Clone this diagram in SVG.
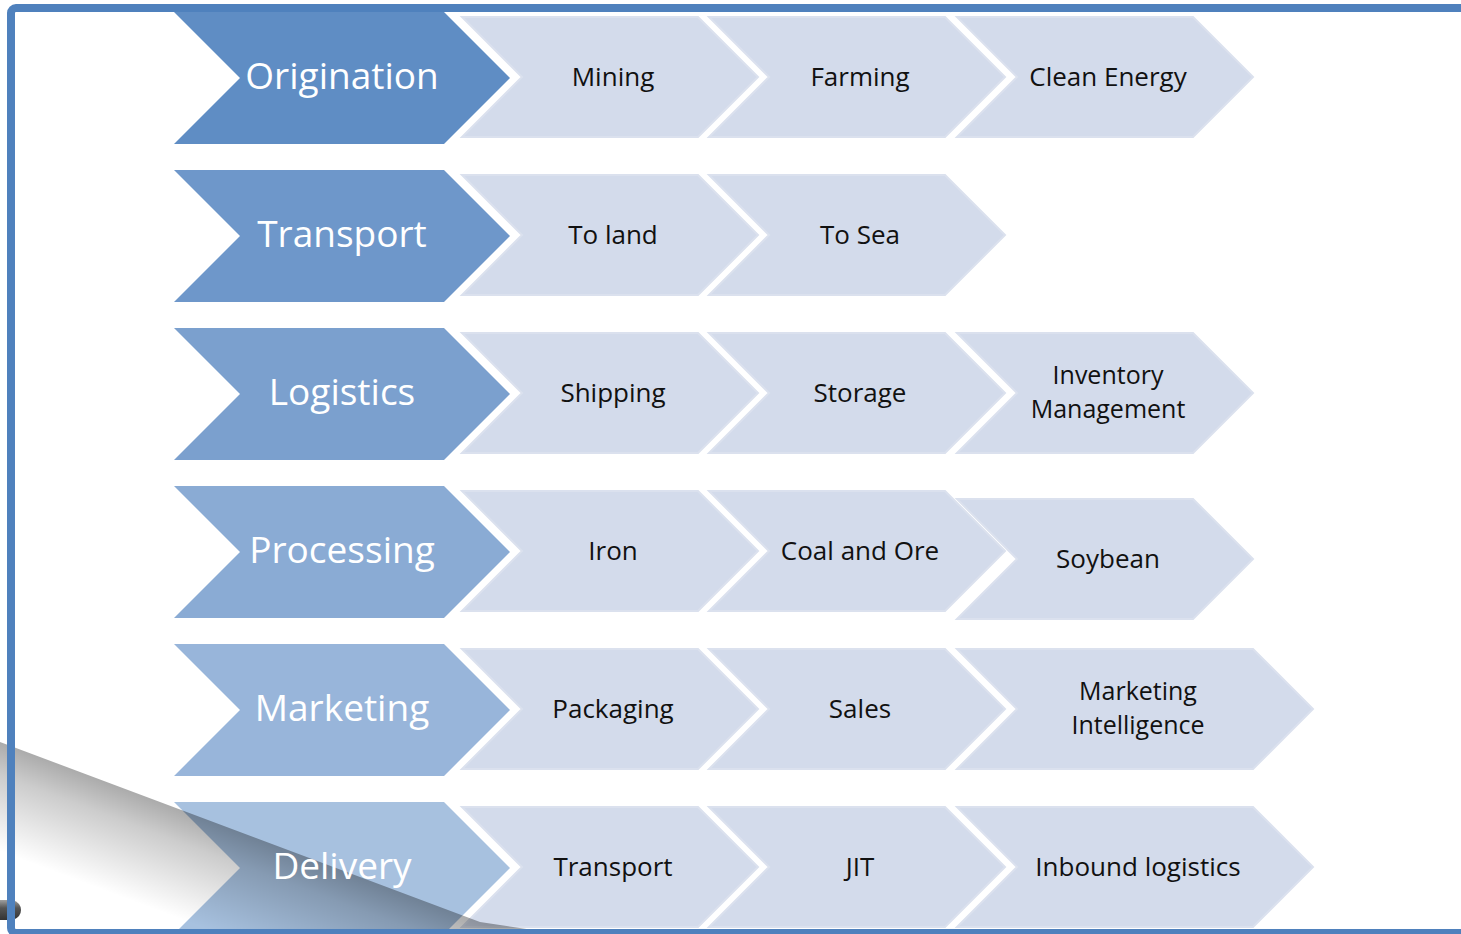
<svg xmlns="http://www.w3.org/2000/svg" width="1461" height="934" viewBox="0 0 1461 934">
<defs>
<style>
.main text{font-family:"Open Sans","Noto Sans",sans-serif;font-size:37px;fill:#ffffff;text-anchor:middle}
.sub polygon{fill:#d3dbeb;stroke:#dbe1ee;stroke-width:2}
.sub text{font-family:"Open Sans","Noto Sans",sans-serif;font-size:26px;fill:#111111;text-anchor:middle}
.sub text.two{font-size:25px}
</style>
<linearGradient id="shade" gradientUnits="userSpaceOnUse" x1="240" y1="832" x2="204" y2="928">
<stop offset="0" stop-color="#000000" stop-opacity="0.33"/>
<stop offset="0.3" stop-color="#000000" stop-opacity="0.2"/>
<stop offset="1" stop-color="#000000" stop-opacity="0"/>
</linearGradient>
<linearGradient id="blob" x1="0" y1="0" x2="0" y2="1">
<stop offset="0" stop-color="#a0a0a0"/>
<stop offset="0.4" stop-color="#555555"/>
<stop offset="1" stop-color="#333333"/>
</linearGradient>
</defs>
<rect x="0" y="0" width="1461" height="934" fill="#ffffff"/>

<g id="row-origination">
<g id="origination" class="main"><polygon points="174,12 444,12 510,78 444,144 174,144 240,78" fill="#5f8dc4"/><text x="342" y="89">Origination</text></g>
<g id="mining" class="sub"><polygon points="462,17 698,17 758,77 698,137 462,137 522,77"/><text x="613" y="86">Mining</text></g>
<g id="farming" class="sub"><polygon points="709,17 945,17 1005,77 945,137 709,137 769,77"/><text x="860" y="86">Farming</text></g>
<g id="clean-energy" class="sub"><polygon points="957,17 1193,17 1253,77 1193,137 957,137 1017,77"/><text x="1108" y="86">Clean Energy</text></g>
</g>

<g id="row-transport">
<g id="transport" class="main"><polygon points="174,170 444,170 510,236 444,302 174,302 240,236" fill="#6e97ca"/><text x="342" y="247">Transport</text></g>
<g id="to-land" class="sub"><polygon points="462,175 698,175 758,235 698,295 462,295 522,235"/><text x="613" y="244">To land</text></g>
<g id="to-sea" class="sub"><polygon points="709,175 945,175 1005,235 945,295 709,295 769,235"/><text x="860" y="244">To Sea</text></g>
</g>

<g id="row-logistics">
<g id="logistics" class="main"><polygon points="174,328 444,328 510,394 444,460 174,460 240,394" fill="#7ba0ce"/><text x="342" y="405">Logistics</text></g>
<g id="shipping" class="sub"><polygon points="462,333 698,333 758,393 698,453 462,453 522,393"/><text x="613" y="402">Shipping</text></g>
<g id="storage" class="sub"><polygon points="709,333 945,333 1005,393 945,453 709,453 769,393"/><text x="860" y="402">Storage</text></g>
<g id="inventory-management" class="sub"><polygon points="957,333 1193,333 1253,393 1193,453 957,453 1017,393"/><text class="two" x="1108" y="384">Inventory</text><text class="two" x="1108" y="418">Management</text></g>
</g>

<g id="row-processing">
<g id="processing" class="main"><polygon points="174,486 444,486 510,552 444,618 174,618 240,552" fill="#8aabd4"/><text x="342" y="563">Processing</text></g>
<g id="iron" class="sub"><polygon points="462,491 698,491 758,551 698,611 462,611 522,551"/><text x="613" y="560">Iron</text></g>
<g id="coal-and-ore" class="sub"><polygon points="709,491 945,491 1005,551 945,611 709,611 769,551"/><text x="860" y="560">Coal and Ore</text></g>
<g id="soybean" class="sub"><polygon points="957,499 1193,499 1253,559 1193,619 957,619 1017,559"/><text x="1108" y="568">Soybean</text></g>
</g>

<g id="row-marketing">
<g id="marketing" class="main"><polygon points="174,644 444,644 510,710 444,776 174,776 240,710" fill="#98b5da"/><text x="342" y="721">Marketing</text></g>
<g id="packaging" class="sub"><polygon points="462,649 698,649 758,709 698,769 462,769 522,709"/><text x="613" y="718">Packaging</text></g>
<g id="sales" class="sub"><polygon points="709,649 945,649 1005,709 945,769 709,769 769,709"/><text x="860" y="718">Sales</text></g>
<g id="marketing-intelligence" class="sub"><polygon points="957,649 1253,649 1313,709 1253,769 957,769 1017,709"/><text class="two" x="1138" y="700">Marketing</text><text class="two" x="1138" y="734">Intelligence</text></g>
</g>

<g id="row-delivery">
<g id="delivery" class="main"><polygon points="174,802 444,802 510,868 444,934 174,934 240,868" fill="#a7c1df"/></g>
<g id="transport-2" class="sub"><polygon points="462,807 698,807 758,867 698,927 462,927 522,867"/><text x="613" y="876">Transport</text></g>
<g id="jit" class="sub"><polygon points="709,807 945,807 1005,867 945,927 709,927 769,867"/><text x="860" y="876">JIT</text></g>
<g id="inbound-logistics" class="sub"><polygon points="957,807 1253,807 1313,867 1253,927 957,927 1017,867"/><text x="1138" y="876">Inbound logistics</text></g>
</g>

<polygon id="shadow" points="0,742 480,922 560,934 0,934" fill="url(#shade)"/>
<g class="main"><text x="342" y="879">Delivery</text></g>

<g id="connectors"></g>

<path id="curl" d="M0,900 L13,900 Q21,903 21,910 Q21,917 13,920 L0,920 Z" fill="url(#blob)"/>
<rect id="frame" x="11" y="8" width="1460" height="925" rx="5" fill="none" stroke="#4f81bd" stroke-width="8"/>
</svg>
